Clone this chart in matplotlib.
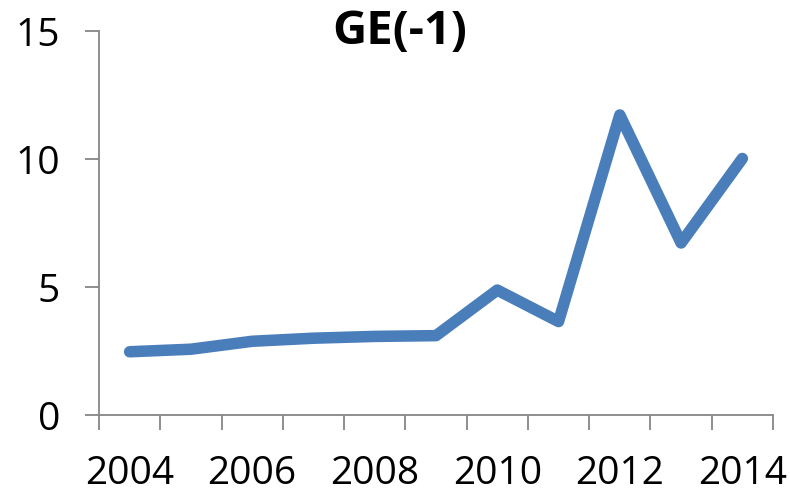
import matplotlib
matplotlib.use("Agg")
import matplotlib.pyplot as plt
import numpy as np

years = [2004, 2005, 2006, 2007, 2008, 2009, 2010, 2011, 2012, 2013, 2014]
values = [2.47, 2.57, 2.88, 3.0, 3.07, 3.1, 4.88, 3.65, 11.72, 6.72, 10.02]
title = "GE(-1)"
yticks = [0, 5, 10, 15]

plt.rcParams['font.family'] = ['Open Sans', 'DejaVu Sans']

fig = plt.figure(figsize=(7.9, 4.92), dpi=100)
ax = fig.add_axes([99/790, 77/492, (773-99)/790, (415-31)/492])

x = np.arange(len(years))
ax.plot(x, values, color='#4a7ebb', lw=8.3, solid_capstyle='round', solid_joinstyle='round')

ax.set_xlim(-0.5, len(years) - 0.5)
ax.set_ylim(0, 15)
ax.set_yticks(yticks)
ax.set_yticklabels([str(v) for v in yticks])

ax.set_xticks(np.arange(-0.5, len(years) + 0.5, 1))
ax.set_xticklabels([])
ax.set_xticks(x[::2], minor=True)
ax.set_xticklabels([str(y) for y in years[::2]], minor=True)

gray = '#868686'
for s in ['top', 'right']:
    ax.spines[s].set_visible(False)
for s in ['left', 'bottom']:
    ax.spines[s].set_color(gray)
    ax.spines[s].set_linewidth(1.3)

ax.tick_params(axis='y', which='major', length=10, width=1.3, color=gray, labelsize=28, pad=18)
ax.tick_params(axis='x', which='major', length=11, width=1.3, color=gray, direction='out')
ax.tick_params(axis='x', which='minor', length=0, labelsize=28, pad=29)

fig.text(400/790, 1 - 31/492, title, ha='center', va='center', fontsize=34, fontweight='bold')

fig.savefig('out.png', dpi=100)
